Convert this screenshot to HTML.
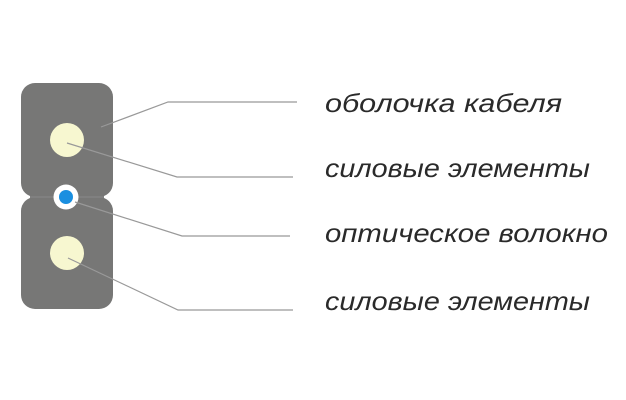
<!DOCTYPE html>
<html><head><meta charset="utf-8"><style>
html,body{margin:0;padding:0;background:#fff;}
svg{display:block;}
text{font-family:"Liberation Sans",sans-serif;font-style:italic;font-size:26px;fill:#2a2a2a;}
</style></head><body>
<svg width="626" height="400" viewBox="0 0 626 400" xmlns="http://www.w3.org/2000/svg">
<rect x="21" y="83" width="92" height="114" rx="14" fill="#777776"/>
<rect x="21" y="197" width="92" height="112" rx="14" fill="#777776"/>
<rect x="30" y="193" width="74" height="8" fill="#777776"/>
<line x1="30" y1="197" x2="104" y2="197" stroke="#8a8a8a" stroke-width="1"/>
<circle cx="67" cy="140" r="17" fill="#f7f7d0"/>
<circle cx="67" cy="253" r="17" fill="#f7f7d0"/>
<circle cx="66" cy="197" r="12.5" fill="#fff"/>
<circle cx="66" cy="197" r="7" fill="#1a8fe0"/>
<g stroke="#999" stroke-width="1.2" fill="none">
<polyline points="101,127 168,102 297,102"/>
<polyline points="67,143 177,177 293,177"/>
<polyline points="75,202 182,236 290,236"/>
<polyline points="68,258 178,310 293,310"/>
</g>
<text x="325" y="112" textLength="237" lengthAdjust="spacingAndGlyphs">оболочка кабеля</text>
<text x="325" y="177" textLength="265" lengthAdjust="spacingAndGlyphs">силовые элементы</text>
<text x="325" y="242" textLength="283" lengthAdjust="spacingAndGlyphs">оптическое волокно</text>
<text x="325" y="310" textLength="265" lengthAdjust="spacingAndGlyphs">силовые элементы</text>
</svg>
</body></html>
